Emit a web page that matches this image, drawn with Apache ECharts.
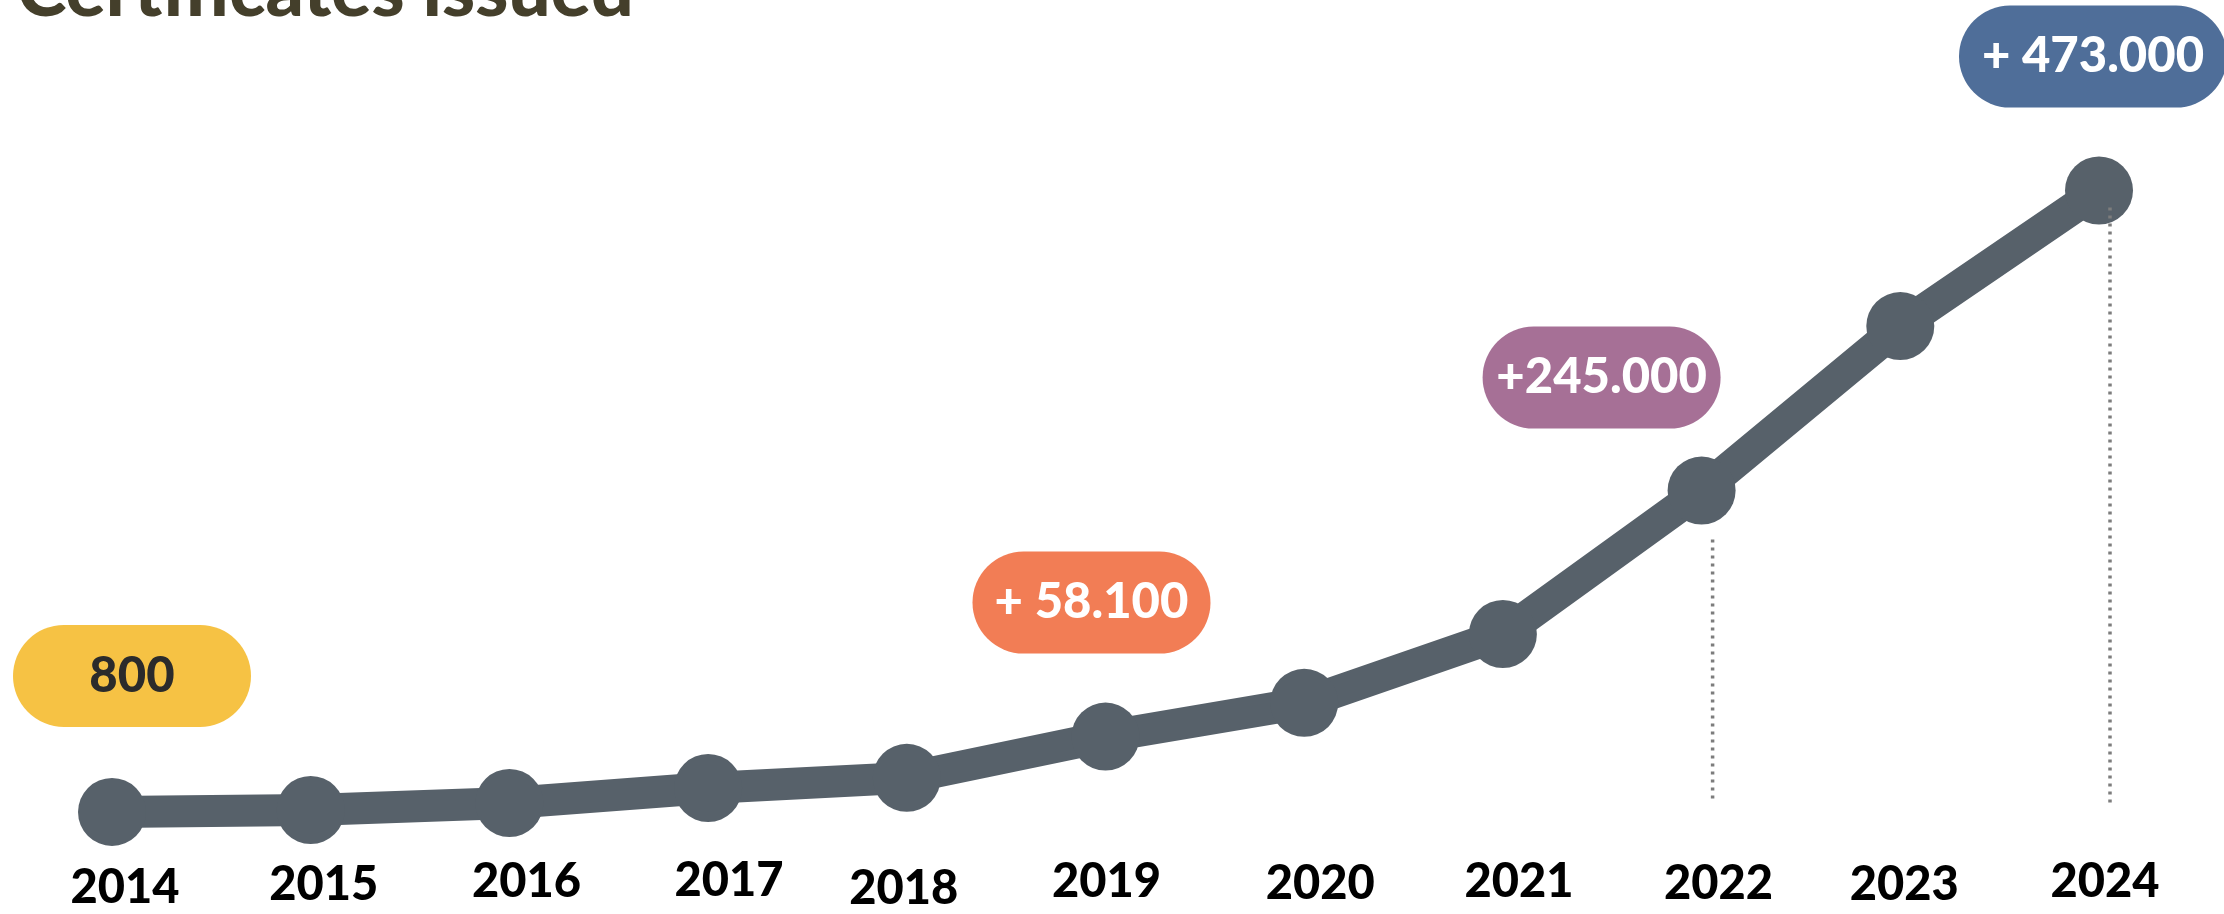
<!DOCTYPE html>
<html>
<head>
<meta charset="utf-8">
<script src="https://cdn.jsdelivr.net/npm/echarts@6/dist/echarts.min.js"></script>
<style>
html,body{margin:0;padding:0;background:#fff;}
#chart{width:2224px;height:914px;}
</style>
</head>
<body>
<div id="chart"></div>
<script>
// ---- data ----
const titleText = 'Certificates issued';
const years = ['2014','2015','2016','2017','2018','2019','2020','2021','2022','2023','2024'];
const certificates = [800, 2300, 7600, 19000, 26700, 58100, 83700, 136000, 245000, 370000, 473000];
const calloutYears = ['2014', '2019', '2022', '2024'];
const calloutTexts = ['800', '+ 58.100', '+245.000', '+ 473.000'];
const dropYears = ['2022', '2024'];
const dropBaseValue = 7600;

// ---- styles ----
const calloutStyles = {
  '2014': {bg:'#f6c244', color:'#2b2b2b', offset:[20,-136], width:238},
  '2019': {bg:'#f27d55', color:'#ffffff', offset:[-14,-134], width:238},
  '2022': {bg:'#a67096', color:'#ffffff', offset:[-100,-113], width:238},
  '2024': {bg:'#4f6e99', color:'#ffffff', offset:[-6,-134], width:268}
};
// hand-placed year label nudges (px): [dx, dy]
const yearLabelNudge = [[13,7],[13,4],[17,1],[21,0],[-3,8],[1,1],[16,3],[16,1],[17,3],[4,4],[6,1]];
const dropStartOffset = {'2022': 49, '2024': 17};
const FONT = 'Lato, "Open Sans", sans-serif';

const lineData = years.map((y, i) => {
  const item = {value: certificates[i]};
  const k = calloutYears.indexOf(y);
  if (k >= 0) {
    const s = calloutStyles[y];
    item.label = {
      show: true,
      position: 'inside',
      offset: s.offset,
      formatter: calloutTexts[k],
      backgroundColor: s.bg,
      borderRadius: 51,
      width: s.width,
      height: 102,
      lineHeight: 102,
      align: 'center',
      verticalAlign: 'middle',
      fontSize: 49,
      fontWeight: 900,
      fontFamily: FONT,
      color: s.color,
      padding: 0
    };
  }
  return item;
});

const axisData = years.map((y, i) => {
  const [dx, dy] = yearLabelNudge[i];
  return {
    value: y,
    textStyle: {padding: [dy, dx < 0 ? -2 * dx : 0, 0, dx > 0 ? 2 * dx : 0]}
  };
});

const dropData = dropYears.map(y => [years.indexOf(y), certificates[years.indexOf(y)], dropBaseValue, dropStartOffset[y]]);

const chart = echarts.init(document.getElementById('chart'), null, {renderer: 'canvas'});
chart.setOption({
  animation: false,
  backgroundColor: '#ffffff',
  title: {
    text: titleText,
    left: 12,
    top: -51,
    textStyle: {fontSize: 75, fontWeight: 900, fontFamily: FONT, color: '#443f2b', lineHeight: 75}
  },
  grid: {left: 112, right: 125, top: 155, bottom: 101},
  xAxis: {
    type: 'category',
    data: axisData,
    boundaryGap: false,
    axisLine: {show: false},
    axisTick: {show: false},
    splitLine: {show: false},
    axisLabel: {
      fontSize: 47, fontWeight: 900, fontFamily: FONT, color: '#000000',
      margin: 44, lineHeight: 47
    }
  },
  yAxis: {
    type: 'value', min: 0, max: 500000,
    show: false,
    splitLine: {show: false}
  },
  series: [
    {
      type: 'line',
      data: lineData,
      symbol: 'circle',
      symbolSize: 68,
      lineStyle: {width: 32, color: '#57616a', cap: 'butt', join: 'round'},
      itemStyle: {color: '#57616a'},
      label: {show: false},
      emphasis: {disabled: true},
      z: 2
    },
    {
      type: 'custom',
      data: dropData,
      z: 5,
      silent: true,
      renderItem: function (params, api) {
        const top = api.coord([api.value(0), api.value(1)]);
        const bot = api.coord([api.value(0), api.value(2)]);
        return {
          type: 'line',
          shape: {x1: top[0] + 11, y1: top[1] + api.value(3), x2: top[0] + 11, y2: bot[1]},
          style: {stroke: '#7d7d7d', lineWidth: 3.5, lineDash: [3, 5]}
        };
      }
    }
  ]
});
</script>
</body>
</html>
